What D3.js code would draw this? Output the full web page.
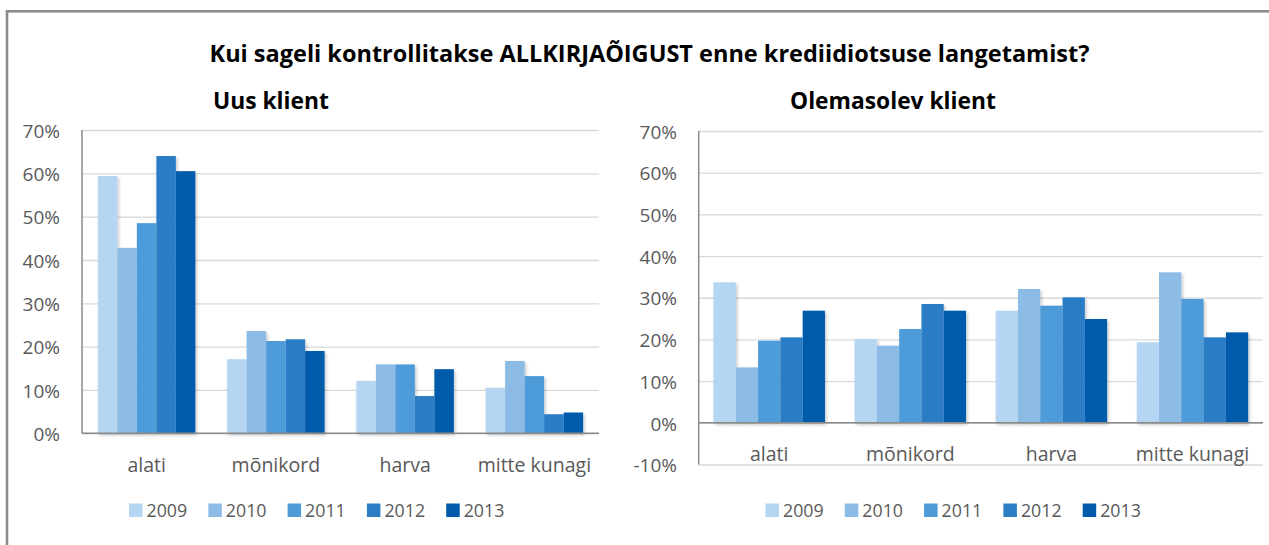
<!DOCTYPE html>
<html>
<head>
<meta charset="utf-8">
<script src="https://cdn.jsdelivr.net/npm/d3@7"></script>
<style>
  body { margin: 0; background: #fff; }
  svg { display: block; font-family: "Open Sans", Lato, sans-serif; }
  .tick text { fill: #595959; }
</style>
</head>
<body>
<div id="chart"></div>
<script>
const years = ["2009", "2010", "2011", "2012", "2013"];
const categories = ["alati", "mõnikord", "harva", "mitte kunagi"];
const colors = ["#b4d6f3", "#8cbce6", "#4e9bd8", "#2b7dc4", "#045bab"];

// values in %, rows = years, columns = categories
const uusKlient = [
    [59.4, 17.1, 12.1, 10.5],
    [42.8, 23.6, 15.9, 16.7],
    [48.5, 21.3, 15.9, 13.2],
    [64.0, 21.7, 8.6, 4.4],
    [60.5, 19.0, 14.8, 4.8]
];
const olemasolevKlient = [
    [33.7, 20.1, 26.9, 19.3],
    [13.3, 18.5, 32.1, 36.1],
    [19.7, 22.5, 28.1, 29.7],
    [20.5, 28.5, 30.1, 20.5],
    [26.9, 26.9, 24.9, 21.7]
];
const uusTicks = [0, 10, 20, 30, 40, 50, 60, 70];
const olemasolevTicks = [-10, 0, 10, 20, 30, 40, 50, 60, 70];

const mainTitle = "Kui sageli kontrollitakse ALLKIRJAÕIGUST enne krediidiotsuse langetamist?";

var width = 1269, height = 545;

var svg = d3.select("#chart").append("svg")
    .attr("width", width)
    .attr("height", height);

var defs = svg.append("defs");
defs.append("filter")
    .attr("id", "shadow")
    .attr("x", "-20%").attr("y", "-20%")
    .attr("width", "140%").attr("height", "140%")
    .append("feDropShadow")
    .attr("dx", 1.5).attr("dy", 2)
    .attr("stdDeviation", 1.5)
    .attr("flood-color", "#000")
    .attr("flood-opacity", 0.22);

// outer frame (only left and top edges are inside the picture)
svg.append("rect")
    .attr("x", 7).attr("y", 11.3)
    .attr("width", 1400).attr("height", 700)
    .attr("fill", "none")
    .attr("stroke", "#8c8c8c")
    .attr("stroke-width", 2.6);

svg.append("text")
    .attr("x", 649.5).attr("y", 61.5)
    .attr("text-anchor", "middle")
    .style("font-weight", "bold")
    .style("font-size", "23.5px")
    .style("fill", "#000")
    .text(mainTitle);

function drawChart(cfg) {
    var g = svg.append("g");

    var y = d3.scaleLinear().domain(cfg.domain).range([cfg.yBottom, cfg.yTop]);
    var x0 = d3.scaleBand().domain(categories).range([cfg.xLeft, cfg.xRight]);
    var bw = x0.bandwidth();
    var x1 = d3.scaleBand().domain(years)
        .range([bw * (1 - cfg.groupFrac) / 2, bw * (1 + cfg.groupFrac) / 2]);

    // gridlines
    var grid = g.append("g")
        .attr("transform", `translate(${cfg.xLeft},0)`)
        .call(d3.axisLeft(y).tickValues(cfg.ticks).tickSize(-(cfg.xRight - cfg.xLeft)).tickFormat(""));
    grid.select(".domain").remove();
    grid.selectAll("line").attr("stroke", "#d9d9d9").attr("stroke-width", 1.3);

    // y labels
    var yAx = g.append("g")
        .attr("transform", `translate(${cfg.labelRight},0)`)
        .call(d3.axisLeft(y).tickValues(cfg.ticks).tickSize(0).tickPadding(0).tickFormat(d => d + "%"));
    yAx.select(".domain").remove();
    yAx.selectAll("text")
        .style("font-size", "19px")
        .style("font-family", "'Open Sans', Lato, sans-serif")
        .attr("dy", "0.38em");

    // bars
    var bars = g.append("g").attr("filter", "url(#shadow)");
    years.forEach(function (yr, i) {
        bars.selectAll(null)
            .data(cfg.values[i])
            .join("rect")
            .attr("x", (d, j) => x0(categories[j]) + x1(yr))
            .attr("width", x1.bandwidth())
            .attr("y", d => y(Math.max(0, d)))
            .attr("height", d => Math.abs(y(d) - y(0)))
            .attr("fill", colors[i]);
    });

    // axis lines
    g.append("line")
        .attr("x1", cfg.xLeft).attr("x2", cfg.xLeft)
        .attr("y1", y(cfg.domain[1])).attr("y2", y(cfg.domain[0]))
        .attr("stroke", "#8a8a8a").attr("stroke-width", 1.5);
    g.append("line")
        .attr("x1", cfg.xLeft).attr("x2", cfg.xRight)
        .attr("y1", y(0)).attr("y2", y(0))
        .attr("stroke", "#8a8a8a").attr("stroke-width", 1.5);

    // category labels
    var xAx = g.append("g")
        .attr("transform", `translate(0,${cfg.catBaseline})`)
        .call(d3.axisBottom(x0).tickSize(0).tickPadding(0));
    xAx.select(".domain").remove();
    xAx.selectAll("text")
        .attr("y", 0).attr("dy", null)
        .style("font-size", "19.5px")
        .style("font-family", "'Open Sans', Lato, sans-serif");

    // subtitle
    g.append("text")
        .attr("x", cfg.titleX).attr("y", 108.5)
        .style("font-weight", "bold")
        .style("font-size", "22.8px")
        .style("fill", "#000")
        .text(cfg.title);

    // legend
    var leg = g.append("g").selectAll("g")
        .data(years)
        .join("g")
        .attr("transform", (d, i) => `translate(${cfg.legendX + i * 79.3},0)`);
    leg.append("rect")
        .attr("x", 0).attr("y", 503.5)
        .attr("width", 13.5).attr("height", 13.5)
        .attr("fill", (d, i) => colors[i]);
    leg.append("text")
        .attr("x", 17.5).attr("y", 516.5)
        .style("font-size", "17.8px")
        .style("fill", "#595959")
        .text(d => d);
}

drawChart({
    title: "Uus klient",
    titleX: 213,
    values: uusKlient,
    ticks: uusTicks,
    domain: [0, 70],
    xLeft: 82, xRight: 599,
    yTop: 130, yBottom: 433.3,
    labelRight: 60,
    groupFrac: 0.754,
    catBaseline: 471.5,
    legendX: 129
});

drawChart({
    title: "Olemasolev klient",
    titleX: 790,
    values: olemasolevKlient,
    ticks: olemasolevTicks,
    domain: [-10, 70],
    xLeft: 698.7, xRight: 1263,
    yTop: 131, yBottom: 464.5,
    labelRight: 677,
    groupFrac: 0.79,
    catBaseline: 461,
    legendX: 765.5
});
</script>
</body>
</html>
